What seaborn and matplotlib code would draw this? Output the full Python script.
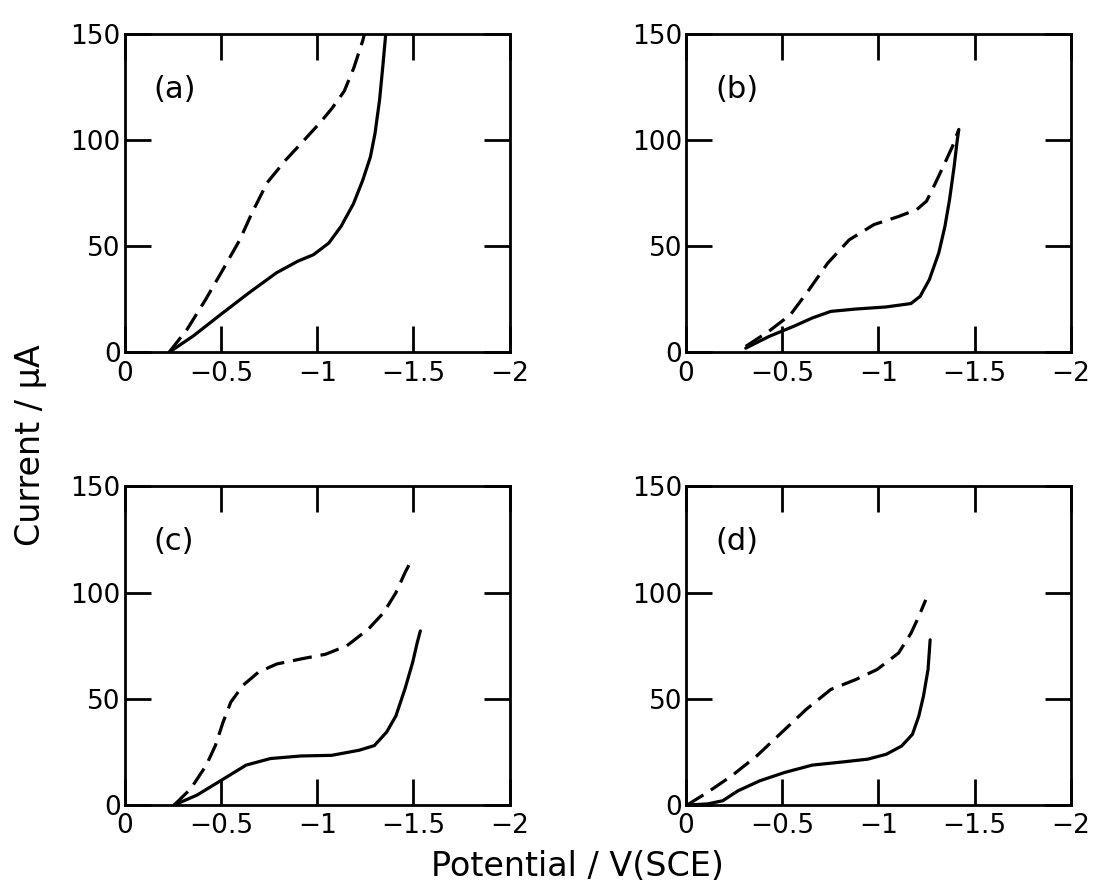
import numpy as np
import pandas as pd
import seaborn as sns
import matplotlib
matplotlib.use('Agg')
import matplotlib.pyplot as plt

# (a) potential / V, current / uA
a_solid_v = [-0.229, -0.356, -0.50, -0.644, -0.788, -0.90, -0.98, -1.06, -1.124, -1.188,
             -1.236, -1.276, -1.30, -1.324, -1.34, -1.356]
a_solid_i = [0, 7.8, 18, 28, 37.5, 43, 46, 51.5, 59.4, 70, 81, 92, 103, 119, 134, 150]
a_dash_v = [-0.229, -0.324, -0.42, -0.50, -0.597, -0.66, -0.74, -0.836, -0.932, -1.013,
            -1.077, -1.14, -1.19, -1.237, -1.245]
a_dash_i = [0, 11, 25, 37.5, 53, 65.6, 80, 90.6, 100, 108, 115, 123, 134, 147, 150]

# (b)
b_solid_v = [-0.31, -0.431, -0.56, -0.656, -0.752, -0.88, -1.04, -1.169, -1.217, -1.265,
             -1.314, -1.346, -1.37, -1.394, -1.41, -1.418]
b_solid_i = [2, 7.5, 12.3, 16.2, 19.3, 20.4, 21.4, 23, 26.4, 34.3, 46.9, 59.4, 72, 87.7, 100, 105]
b_dash_v = [-0.31, -0.431, -0.543, -0.64, -0.736, -0.848, -0.977, -1.105, -1.20, -1.25,
            -1.298, -1.346, -1.386, -1.418]
b_dash_i = [2.8, 10, 17.8, 29.6, 42, 53, 60.2, 64, 67.3, 71.2, 80, 89.3, 97.2, 105]

# (c)
c_solid_v = [-0.256, -0.375, -0.502, -0.63, -0.757, -0.916, -1.075, -1.218, -1.297, -1.361,
             -1.409, -1.456, -1.496, -1.52, -1.536]
c_solid_i = [0, 4.7, 11.7, 18.8, 21.9, 23.1, 23.4, 25.8, 28, 34.4, 42, 54.7, 67.2, 76.6, 82]
c_dash_v = [-0.256, -0.343, -0.423, -0.47, -0.51, -0.55, -0.613, -0.693, -0.789, -0.916,
            -1.043, -1.154, -1.265, -1.345, -1.409, -1.456, -1.496]
c_dash_i = [0, 7.8, 18.8, 28, 39, 48.4, 56.3, 62.5, 66.4, 68.8, 71, 75, 82.8, 90.6, 100,
            109.4, 116.4]

# (d)
d_solid_v = [-0.005, -0.11, -0.19, -0.27, -0.383, -0.511, -0.656, -0.816, -0.945, -1.041,
             -1.121, -1.177, -1.21, -1.234, -1.258, -1.269]
d_solid_i = [0, 0.5, 2, 6.7, 11.4, 15.3, 18.8, 20.3, 21.6, 23.9, 27.8, 33.3, 41.9, 51.2,
             63.8, 77.8]
d_dash_v = [-0.005, -0.11, -0.238, -0.367, -0.495, -0.624, -0.752, -0.88, -0.993, -1.105,
            -1.17, -1.21, -1.246]
d_dash_i = [0, 5.9, 13.8, 23.1, 34, 45, 54.4, 59, 63.8, 71.6, 81, 88.8, 96.6]

panels = [
    ('(a)', a_solid_v, a_solid_i, a_dash_v, a_dash_i),
    ('(b)', b_solid_v, b_solid_i, b_dash_v, b_dash_i),
    ('(c)', c_solid_v, c_solid_i, c_dash_v, c_dash_i),
    ('(d)', d_solid_v, d_solid_i, d_dash_v, d_dash_i),
]

sns.set_theme(style='ticks', rc={'text.color': 'black', 'axes.labelcolor': 'black',
                                 'xtick.color': 'black', 'ytick.color': 'black',
                                 'axes.edgecolor': 'black'})
plt.rcParams['font.family'] = ['DejaVu Sans']

fig, axs = plt.subplots(2, 2, figsize=(11.2, 8.91), dpi=100)
fig.subplots_adjust(left=0.1116, right=0.956, top=0.962, bottom=0.0965,
                    wspace=0.459, hspace=0.421)

for ax, (tag, sv, si, dv, di) in zip(axs.flat, panels):
    df = pd.concat([
        pd.DataFrame({'V': sv, 'I': si, 'scan': 'solid'}),
        pd.DataFrame({'V': dv, 'I': di, 'scan': 'dash'}),
    ])
    sns.lineplot(ax=ax, data=df, x='V', y='I', style='scan',
                 dashes={'solid': '', 'dash': (6, 2.8)}, color='black',
                 sort=False, estimator=None, legend=False, linewidth=2.3)
    ax.set_xlim(0, -2)
    ax.set_ylim(0, 150)
    ax.set_xticks([0, -0.5, -1, -1.5, -2])
    ax.set_xticklabels(['0', '\u22120.5', '\u22121', '\u22121.5', '\u22122'])
    ax.set_yticks([0, 50, 100, 150])
    ax.tick_params(direction='in', length=19, width=2, labelsize=19,
                   top=True, right=True)
    ax.tick_params(axis='x', pad=6)
    ax.tick_params(axis='y', pad=3)
    for s in ax.spines.values():
        s.set_linewidth(2)
    ax.set_xlabel('')
    ax.set_ylabel('')
    ax.text(-0.15, 124, tag, fontsize=22, ha='left', va='center')

fig.text(0.027, 0.5, 'Current / \u00b5A', rotation=90, fontsize=24,
         ha='center', va='center')
fig.text(0.516, 0.028, 'Potential / V(SCE)', fontsize=24,
         ha='center', va='center')

fig.savefig('out.png', dpi=100)
